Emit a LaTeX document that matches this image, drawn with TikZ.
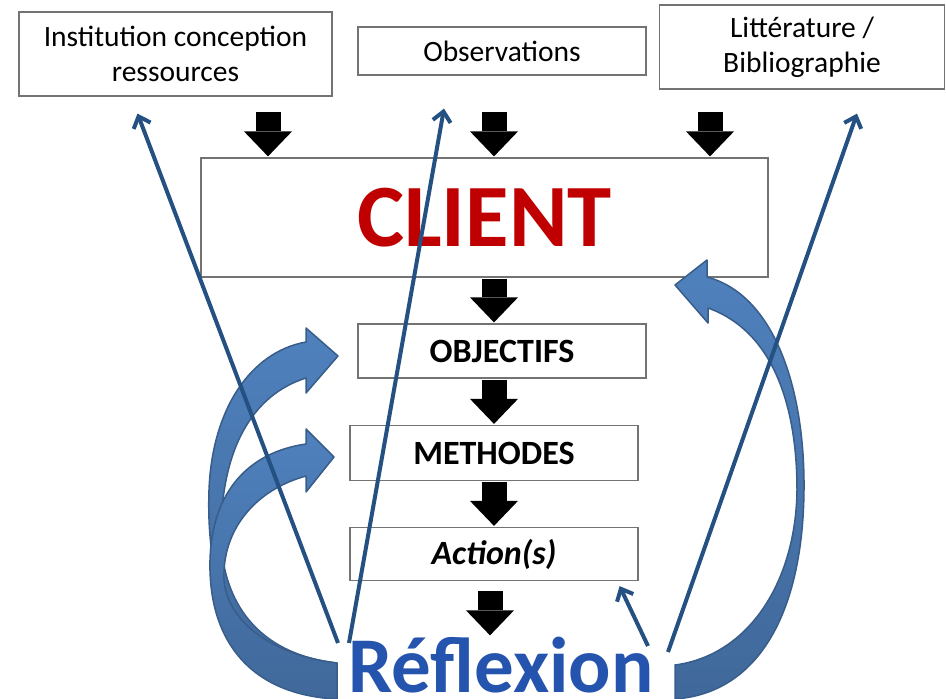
\documentclass[tikz,border=0pt]{standalone}
\usepackage{fontspec}
\setmainfont{Carlito}
\usetikzlibrary{arrows.meta}
\definecolor{clientred}{RGB}{192,0,0}
\definecolor{reflblue}{RGB}{36,84,174}
\definecolor{thinblue}{RGB}{36,80,130}
\definecolor{curvefill}{RGB}{79,129,189}
\definecolor{curvedark}{RGB}{64,104,154}
\definecolor{curveline}{RGB}{56,93,138}
\tikzstyle{mybox}=[draw=black!55,line width=1.2pt,fill=white,inner sep=0pt,align=center,font=\fontsize{29.5}{35}\selectfont]
\tikzstyle{mystep}=[mybox,minimum width=288pt,font=\bfseries\fontsize{34}{40}\selectfont]
\tikzstyle{myblock}=[black,line width=25pt,-{Triangle[length=25pt,width=48pt,line width=0pt]},shorten <=1pt,shorten >=1pt]
\tikzstyle{mythin}=[thinblue,line width=4pt,-{Straight Barb[length=10pt,width=18pt]}]
\tikzstyle{mycurve}=[top color=curvefill,bottom color=curvedark,draw=curveline,line width=1.5pt,line join=round]

\begin{document}
\begin{tikzpicture}[x=1pt,y=-1pt]
	\useasboundingbox (0,0) rectangle (946,699);
	% top sources
	\node[mybox,minimum width=313pt,minimum height=84pt] (inst) at (175.5,54) {Institution conception\\ressources};
	\node[mybox,minimum width=288pt,minimum height=48pt] (obs) at (502,51) {Observations};
	\node[mybox,minimum width=285pt,minimum height=84pt] (lit) at (802,47) {Littérature /\\Bibliographie};
	% main column
	\node[mybox,minimum width=567pt,minimum height=119pt,text=clientred,font=\bfseries\fontsize{89}{100}\selectfont] (client) at (484.5,217.5) {CLIENT};
	\node[mystep,minimum height=54pt] (obj) at (502,351) {OBJECTIFS};
	\node[mystep,minimum height=55pt] (meth) at (494,453) {METHODES};
	\node[mystep,minimum height=53pt,font=\bfseries\itshape\fontsize{34}{40}\selectfont] (act) at (494,554) {Action(s)};
	\node[text=reflblue,anchor=base,inner sep=0pt,font=\bfseries\fontsize{79}{90}\selectfont] (refl) at (501,692) {Réflexion};

	% black block arrows
	\coordinate (a1) at (268,111);
	\coordinate (a2) at (494,111);
	\coordinate (a3) at (710,111);
	\coordinate (col) at (494,0);
	\foreach \p in {a1,a2,a3}{ \draw[myblock] (\p) -- (\p |- client.north);}
	\draw[myblock] (col |- client.south) -- (col |- obj.north);
	\foreach \u/\v in {obj/meth,meth/act}{ \draw[myblock] (col |- \u.south) -- (col |- \v.north);}
	\draw[myblock,shorten <=10pt] ([xshift=-4pt]col |- act.south) -- ([xshift=-4pt]col |- refl.north);

	% curved arrows
	\path[mycurve] (338,356) -- (306,328) -- (306,342) .. controls (250,352) and (212,410) .. (209,490) .. controls (205,600) and (245,695) .. (337,699) -- (337,663) .. controls (265,655) and (224,610) .. (221,540) .. controls (220,450) and (252,395) .. (306,378) -- (306,393) -- cycle;
	\path[mycurve] (334,457) -- (306,429) -- (306,444) .. controls (250,452) and (212,490) .. (210,560) .. controls (208,640) and (250,695) .. (337,699) -- (337,663) .. controls (270,655) and (227,620) .. (224,580) .. controls (222,530) and (255,490) .. (306,476) -- (306,492) -- cycle;
	\path[mycurve] (675,285) -- (707,260) -- (707,277) .. controls (775,295) and (805,390) .. (804,490) .. controls (803,610) and (760,693) .. (675,699) -- (675,665) .. controls (750,655) and (796,580) .. (797,490) .. controls (797,400) and (770,330) .. (708,308) -- (708,323) -- cycle;

	% thin arrows from Reflexion
	\coordinate (r1) at (338,643);
	\coordinate (r2) at (349,643);
	\coordinate (r3) at (668,652);
	\coordinate (r4) at (648,646);
	\draw[mythin] (r1) -- ([xshift=-38pt,yshift=-17pt]inst.south);
	\draw[mythin] (r2) -- ([xshift=-58pt,yshift=-33pt]obs.south);
	\draw[mythin] (r3) -- ([xshift=55pt,yshift=-24pt]lit.south);
	\draw[mythin] (r4) -- ([xshift=-19pt,yshift=-5pt]act.south east);
\end{tikzpicture}
\end{document}
